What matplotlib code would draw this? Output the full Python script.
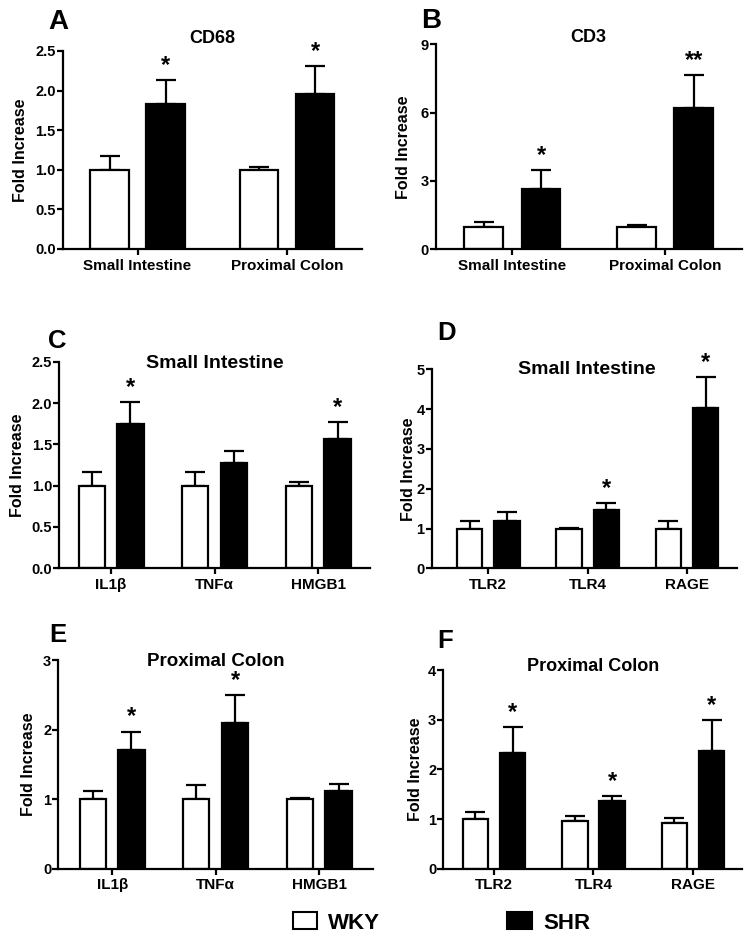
import numpy as np
import matplotlib
matplotlib.use('Agg')
import matplotlib.pyplot as plt
from matplotlib.patches import Rectangle

plt.rcParams['font.family'] = ['Liberation Sans', 'DejaVu Sans']
plt.rcParams['font.weight'] = 'bold'

W, H = 751, 938

# panel A - CD68
a_cats = ['Small Intestine', 'Proximal Colon']
a_wky = [1.0, 1.0]
a_wky_err = [0.17, 0.04]
a_shr = [1.83, 1.96]
a_shr_err = [0.30, 0.35]
a_stars = ['*', '*']

# panel B - CD3
b_cats = ['Small Intestine', 'Proximal Colon']
b_wky = [1.0, 1.0]
b_wky_err = [0.19, 0.07]
b_shr = [2.66, 6.2]
b_shr_err = [0.82, 1.45]
b_stars = ['*', '**']

# panel C - small intestine cytokines
c_cats = ['IL1β', 'TNFα', 'HMGB1']
c_wky = [1.0, 1.0, 1.0]
c_wky_err = [0.17, 0.16, 0.04]
c_shr = [1.75, 1.27, 1.57]
c_shr_err = [0.26, 0.15, 0.20]
c_stars = ['*', '', '*']

# panel D - small intestine receptors
d_cats = ['TLR2', 'TLR4', 'RAGE']
d_wky = [1.0, 1.0, 1.0]
d_wky_err = [0.2, 0.02, 0.18]
d_shr = [1.2, 1.47, 4.04]
d_shr_err = [0.21, 0.16, 0.76]
d_stars = ['', '*', '*']

# panel E - proximal colon cytokines
e_cats = ['IL1β', 'TNFα', 'HMGB1']
e_wky = [1.0, 1.0, 1.0]
e_wky_err = [0.11, 0.2, 0.02]
e_shr = [1.71, 2.09, 1.12]
e_shr_err = [0.26, 0.40, 0.10]
e_stars = ['*', '*', '']

# panel F - proximal colon receptors
f_cats = ['TLR2', 'TLR4', 'RAGE']
f_wky = [1.0, 0.97, 0.91]
f_wky_err = [0.15, 0.10, 0.11]
f_shr = [2.32, 1.36, 2.36]
f_shr_err = [0.53, 0.10, 0.63]
f_stars = ['*', '*', '*']

panels = [
    ('A', 'CD68', a_cats, a_wky, a_wky_err, a_shr, a_shr_err, a_stars, np.arange(0, 2.6, 0.5), '%.1f'),
    ('B', 'CD3', b_cats, b_wky, b_wky_err, b_shr, b_shr_err, b_stars, [0, 3, 6, 9], '%d'),
    ('C', 'Small Intestine', c_cats, c_wky, c_wky_err, c_shr, c_shr_err, c_stars, np.arange(0, 2.6, 0.5), '%.1f'),
    ('D', 'Small Intestine', d_cats, d_wky, d_wky_err, d_shr, d_shr_err, d_stars, [0, 1, 2, 3, 4, 5], '%d'),
    ('E', 'Proximal Colon', e_cats, e_wky, e_wky_err, e_shr, e_shr_err, e_stars, [0, 1, 2, 3], '%d'),
    ('F', 'Proximal Colon', f_cats, f_wky, f_wky_err, f_shr, f_shr_err, f_stars, [0, 1, 2, 3, 4], '%d'),
]

# layout in pixels: axes (left, top, right, bottom), xlim, ylabel right edge,
# letter (x, baseline), title (x center, baseline), title size
layout = {
    'A': ((62.7, 51, 362, 249), (-0.5, 1.5), 28, (48, 29), (212, 43), 13),
    'B': ((436, 44.3, 741.7, 249.3), (-0.5, 1.5), 411, (421, 28), (588, 42), 13),
    'C': ((59.3, 361.7, 370, 568.3), (-0.5, 2.5), 25, (48, 348), (215, 368), 14),
    'D': ((431.7, 369.3, 736.7, 568.3), (-0.57, 2.5), 416, (437, 340), (587, 374), 14),
    'E': ((58.3, 660, 373, 868.7), (-0.52, 2.52), 36, (49, 642), (216, 665.5), 13.5),
    'F': ((443.3, 670, 741.7, 868.7), (-0.51, 2.49), 423, (437, 648), (593, 671), 13),
}

fig = plt.figure(figsize=(W / 100, H / 100), dpi=100)

off = 0.187
bw = 0.255
for letter, title, cats, wky, wky_err, shr, shr_err, stars, yticks, fmt in panels:
    (l, t, r, b), xlim, ylab_x, lpos, tpos, tsize = layout[letter]
    ax = fig.add_axes([l / W, 1 - b / H, (r - l) / W, (b - t) / H])
    x = np.arange(len(cats))
    zeros = np.zeros(len(cats))
    ax.bar(x - off, wky, bw, color='white', edgecolor='black', linewidth=1.6, zorder=2)
    ax.bar(x + off, shr, bw, color='black', edgecolor='black', linewidth=1.6, zorder=2)
    ax.errorbar(x - off, wky, yerr=[zeros, wky_err], fmt='none', ecolor='black',
                elinewidth=1.6, capsize=7, capthick=1.6, zorder=1)
    ax.errorbar(x + off, shr, yerr=[zeros, shr_err], fmt='none', ecolor='black',
                elinewidth=1.6, capsize=7, capthick=1.6, zorder=1)
    for i, s in enumerate(stars):
        if s:
            ax.annotate(s, (x[i] + off, shr[i] + shr_err[i]), xytext=(0, 2.5),
                        textcoords='offset points', ha='center', va='bottom',
                        fontsize=17, fontweight='bold')
    ax.set_xlim(*xlim)
    ax.set_ylim(yticks[0], yticks[-1])
    ax.set_yticks(yticks)
    ax.set_yticklabels([fmt % v for v in yticks])
    ax.set_xticks(x)
    ax.set_xticklabels(cats)
    for sp in ['top', 'right']:
        ax.spines[sp].set_visible(False)
    for sp in ['left', 'bottom']:
        ax.spines[sp].set_linewidth(1.6)
    ax.tick_params(axis='y', length=4.3, width=1.6, pad=0.8, labelsize=10.5)
    ax.tick_params(axis='x', length=4, width=1.6, pad=3, labelsize=11)
    ax.set_ylabel('Fold Increase', fontsize=11.5, fontweight='bold')
    ax.yaxis.set_label_coords((ylab_x - l) / (r - l), 0.5)
    fig.text(lpos[0] / W, 1 - lpos[1] / H, letter, fontsize=20 if letter in 'AB' else 18.5,
             fontweight='bold', ha='left', va='baseline')
    fig.text(tpos[0] / W, 1 - tpos[1] / H, title, fontsize=tsize,
             fontweight='bold', ha='center', va='baseline')

# legend
for x0, x1, fc, name in [(293.3, 316.7, 'white', 'WKY'), (506.7, 531.7, 'black', 'SHR')]:
    fig.add_artist(Rectangle((x0 / W, 1 - 929 / H), (x1 - x0) / W, 17.3 / H,
                             transform=fig.transFigure, facecolor=fc,
                             edgecolor='black', linewidth=1.5))
    fig.text((x1 + 11.5) / W, 1 - 928.5 / H, name, fontsize=16, fontweight='bold',
             ha='left', va='baseline')

fig.savefig('out.png', dpi=100)
